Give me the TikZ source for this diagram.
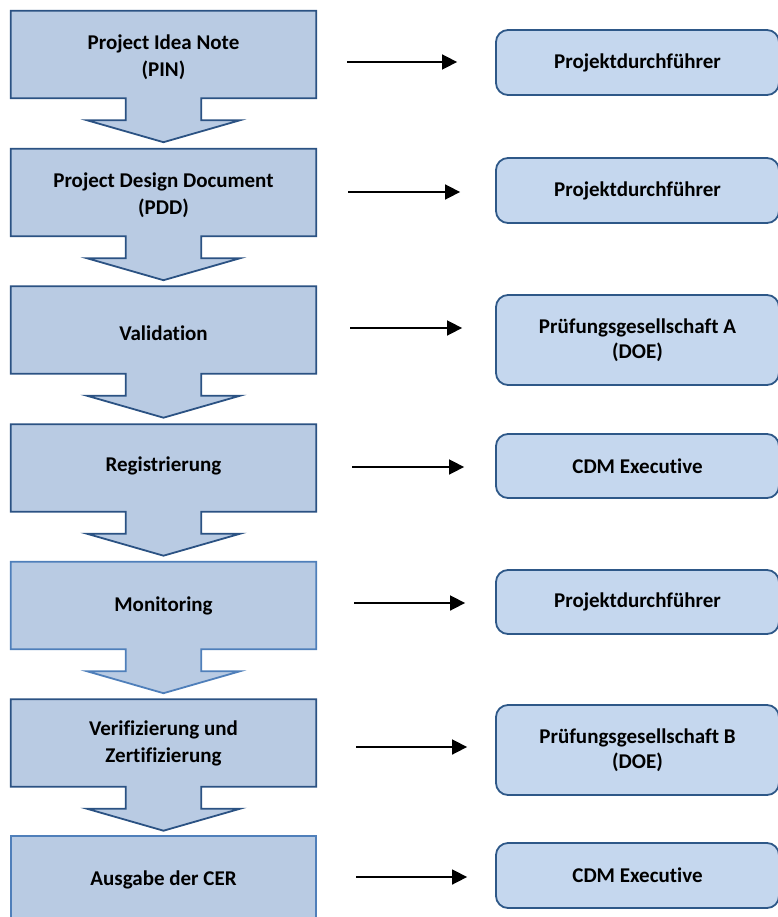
\documentclass[tikz,border=0pt]{standalone}
\usepackage{fontspec}
\setmainfont{Carlito}[Ligatures=NoCommon]
\usetikzlibrary{arrows.meta,backgrounds,calc}
\definecolor{lfill}{HTML}{B9CBE3}
\definecolor{rfill}{HTML}{C5D7EE}
\definecolor{dborder}{HTML}{2B5283}
\definecolor{lborder}{HTML}{4F7FBA}
\definecolor{rborder}{HTML}{2E5888}
\tikzset{
  lbox/.style={minimum width=305pt,minimum height=87pt,inner sep=0pt},
  ltext/.style={inner sep=0pt,align=center,font=\fontsize{21}{27}\selectfont\bfseries},
  rbox/.style={rectangle,rounded corners=12pt,fill=rfill,draw=rborder,line width=1.8pt,
    minimum width=283pt,inner sep=0pt,align=center,font=\fontsize{21}{25}\selectfont\bfseries},
  stepline/.style={fill=lfill,draw=#1,line width=1.8pt,line join=miter},
  conn/.style={line width=1.6pt,-{Triangle[length=15pt,width=15pt]}}
}
\newcommand{\steparrow}[2]{%
  \path[stepline=#2] (#1.north west) -- (#1.north east) -- (#1.south east)
    -- ([xshift=-115pt]#1.south east) -- ([xshift=-115pt,yshift=-22pt]#1.south east)
    -- ([xshift=-76pt,yshift=-22pt]#1.south east) -- ([yshift=-44pt]#1.south)
    -- ([xshift=76pt,yshift=-22pt]#1.south west) -- ([xshift=115pt,yshift=-22pt]#1.south west)
    -- ([xshift=115pt]#1.south west) -- (#1.south west) -- cycle;}
\begin{document}
\begin{tikzpicture}[x=1pt,y=-1pt]
\useasboundingbox (0,0) rectangle (777,917);
% left steps
\node[lbox] (l1) at (163.5,54.5) {};
\node[lbox] (l2) at (163.5,192.5) {};
\node[lbox] (l3) at (163.5,330) {};
\node[lbox] (l4) at (163.5,468) {};
\node[lbox] (l5) at (163.5,605.5) {};
\node[lbox] (l6) at (163.5,743) {};
\node[lbox] (l7) at (163.5,879.5) {};
\node[ltext] (t1) at ([yshift=-2.5pt]l1.center) {Project Idea Note\\(PIN)};
\node[ltext] (t2) at ([yshift=-3pt]l2.center) {Project Design Document\\(PDD)};
\node[ltext] (t3) at ([yshift=-3pt]l3.center) {Validation};
\node[ltext] (t4) at ([yshift=2pt]l4.center) {Registrierung};
\node[ltext] (t5) at (l5.center) {Monitoring};
\node[ltext] (t6) at (l6.center) {Verifizierung und\\Zertifizierung};
\node[ltext] (t7) at (l7.center) {Ausgabe der CER};
\begin{scope}[on background layer]
\steparrow{l1}{dborder}
\steparrow{l2}{dborder}
\steparrow{l3}{dborder}
\steparrow{l4}{dborder}
\steparrow{l5}{lborder}
\steparrow{l6}{dborder}
\path[stepline=lborder] (l7.north west) rectangle (l7.south east);
\end{scope}
% right boxes
\node[rbox,minimum height=65pt] (r1) at (637.5,62.5) {Projektdurchführer};
\node[rbox,minimum height=65pt] (r2) at (637.5,190.5) {Projektdurchführer};
\node[rbox,minimum height=90pt] (r3) at (637.5,340) {Prüfungsgesellschaft A\\(DOE)};
\node[rbox,minimum height=64pt] (r4) at (637.5,466) {CDM Executive};
\node[rbox,minimum height=64pt] (r5) at (637.5,602) {Projektdurchführer};
\node[rbox,minimum height=90pt] (r6) at (637.5,750) {Prüfungsgesellschaft B\\(DOE)};
\node[rbox,minimum height=65pt] (r7) at (637.5,875.5) {CDM Executive};
% connectors
\coordinate (a1) at (347,62);
\coordinate (a2) at (348,192);
\coordinate (a3) at (350,328);
\coordinate (a4) at (352,467);
\coordinate (a5) at (354,603);
\coordinate (a6) at (356,747);
\coordinate (a7) at (356,877);
\draw[conn] (a1) -- ($(a1 -| r1.west)+(-38,0)$);
\draw[conn] (a2) -- ($(a2 -| r2.west)+(-35,0)$);
\draw[conn] (a3) -- ($(a3 -| r3.west)+(-33,0)$);
\draw[conn] (a4) -- ($(a4 -| r4.west)+(-31,0)$);
\draw[conn] (a5) -- ($(a5 -| r5.west)+(-30,0)$);
\draw[conn] (a6) -- ($(a6 -| r6.west)+(-28,0)$);
\draw[conn] (a7) -- ($(a7 -| r7.west)+(-28,0)$);
\end{tikzpicture}
\end{document}
